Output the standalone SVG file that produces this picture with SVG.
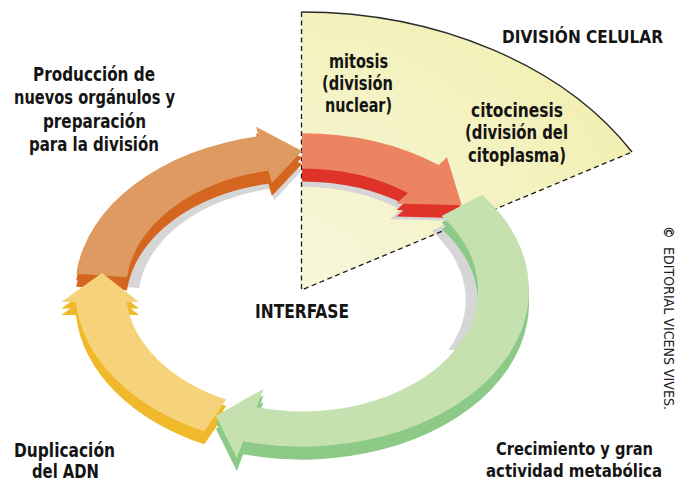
<svg xmlns="http://www.w3.org/2000/svg" width="678" height="481" viewBox="0 0 678 481">
<style>
.lbl{font-family:'Liberation Sans Narrow','DejaVu Sans Condensed','Liberation Sans',Arial,sans-serif;font-weight:bold;font-size:19px;fill:#141414;}
.ttl{font-size:20px;}
.sm{font-size:18px;}
.copy{font-family:'Liberation Sans Narrow','DejaVu Sans Condensed','Liberation Sans',Arial,sans-serif;font-size:14px;fill:#222;}
.o-side{fill:#d4661f;} .o-face{fill:#df9a62;}
.r-side{fill:#df3329;} .r-face{fill:#ec8462;}
.g-side{fill:#8dc987;} .g-face{fill:#c6e1b0;}
.y-side{fill:#f0b92b;} .y-face{fill:#f6d37a;}
.dash{fill:none;stroke:#1a1a1a;stroke-width:1.3;stroke-dasharray:5 3.5;}
.arc{fill:none;stroke:#2a2a2a;stroke-width:1.4;}
</style>
<defs>
<radialGradient id="sectorFill" gradientUnits="userSpaceOnUse" cx="301.5" cy="290" r="380">
<stop offset="0" stop-color="#f7f7dc"/>
<stop offset="1" stop-color="#f2efb0"/>
</radialGradient>
<clipPath id="shadowClip"><rect x="0" y="0" width="678" height="350"/></clipPath>
<path id="a-orange" d="M76.24,273.63 A227,156.63 0 0 1 258.69,136.25 L256.01,126.77 L302,150.96 L271.85,182.98 L268.42,170.79 A176,121.44 0 0 0 126.96,277.31 Z"/>
<path id="a-red" d="M302,133.37 A227,156.63 0 0 1 438.61,164.91 L447.04,157.2 L461.65,205.17 L396.49,203.48 L407.92,193.01 A176,121.44 0 0 0 302,168.56 Z"/>
<path id="a-green" d="M482.09,194.65 A227,156.63 0 0 1 243.25,441.29 L236.78,457.96 L215.89,415.7 L263.69,388.64 L256.45,407.3 A176,121.44 0 0 0 441.63,216.07 Z"/>
<path id="a-yellow" d="M204.27,431.37 A227,156.63 0 0 1 75.86,302 L61.32,302 L102,273.06 L139.12,302 L126.67,302 A176,121.44 0 0 0 226.23,399.61 Z"/>
</defs>

<g id="division-celular-sector">
<path d="M301.5,290 L301.5,12 A381,278 0 0 1 632,152 Z" fill="url(#sectorFill)"/>
</g>

<g id="shadows" clip-path="url(#shadowClip)" fill="#d6d6d6">
<g transform="matrix(0.93,0,0,0.93,21.14,30)">
<use href="#a-orange"/><use href="#a-red"/><use href="#a-green"/>
</g>
</g>

<g id="sector-outline">
<path class="arc" d="M301.5,12 A381,278 0 0 1 632,152"/>
<path class="dash" d="M301.5,12 L301.5,290 L632,152"/>
</g>

<g id="connectors">
<g id="arrow-orange">
<use href="#a-orange" class="o-side" transform="translate(0,13)"/>
<use href="#a-orange" class="o-side" transform="translate(0,6.5)"/>
<use href="#a-orange" class="o-face"/>
</g>
<g id="arrow-red">
<use href="#a-red" class="r-side" transform="translate(0,13)"/>
<use href="#a-red" class="r-side" transform="translate(0,6.5)"/>
<use href="#a-red" class="r-face"/>
</g>
<g id="arrow-yellow">
<use href="#a-yellow" class="y-side" transform="translate(0,13)"/>
<use href="#a-yellow" class="y-side" transform="translate(0,6.5)"/>
<use href="#a-yellow" class="y-face"/>
</g>
<g id="arrow-green">
<use href="#a-green" class="g-side" transform="translate(0,13)"/>
<use href="#a-green" class="g-side" transform="translate(0,6.5)"/>
<use href="#a-green" class="g-face"/>
</g>
</g>

<g id="label-division-celular">
<text class="lbl sm" x="502" y="43" textLength="161" lengthAdjust="spacingAndGlyphs">DIVISIÓN CELULAR</text>
</g>
<g id="label-mitosis">
<text class="lbl" x="329" y="68" textLength="59" lengthAdjust="spacingAndGlyphs">mitosis</text>
<text class="lbl" x="322" y="90" textLength="71" lengthAdjust="spacingAndGlyphs">(división</text>
<text class="lbl" x="325" y="112" textLength="67" lengthAdjust="spacingAndGlyphs">nuclear)</text>
</g>
<g id="label-citocinesis">
<text class="lbl" x="471" y="117" textLength="92" lengthAdjust="spacingAndGlyphs">citocinesis</text>
<text class="lbl" x="465" y="139" textLength="103" lengthAdjust="spacingAndGlyphs">(división del</text>
<text class="lbl" x="468" y="162" textLength="98" lengthAdjust="spacingAndGlyphs">citoplasma)</text>
</g>
<g id="label-produccion">
<text class="lbl" x="33" y="81" textLength="122" lengthAdjust="spacingAndGlyphs">Producción de</text>
<text class="lbl" x="14" y="104" textLength="161" lengthAdjust="spacingAndGlyphs">nuevos orgánulos y</text>
<text class="lbl" x="43" y="128" textLength="103" lengthAdjust="spacingAndGlyphs">preparación</text>
<text class="lbl" x="29" y="151" textLength="130" lengthAdjust="spacingAndGlyphs">para la división</text>
</g>
<g id="label-interfase">
<text class="lbl ttl" x="255" y="318" textLength="94" lengthAdjust="spacingAndGlyphs">INTERFASE</text>
</g>
<g id="label-duplicacion">
<text class="lbl" x="14" y="457" textLength="101" lengthAdjust="spacingAndGlyphs">Duplicación</text>
<text class="lbl" x="32" y="478" textLength="67" lengthAdjust="spacingAndGlyphs">del ADN</text>
</g>
<g id="label-crecimiento">
<text class="lbl sm" x="496" y="455" textLength="157" lengthAdjust="spacingAndGlyphs">Crecimiento y gran</text>
<text class="lbl sm" x="486" y="477" textLength="176" lengthAdjust="spacingAndGlyphs">actividad metabólica</text>
</g>
<g id="copyright" transform="translate(664,226) rotate(90)">
<text class="copy" x="0" y="0" font-size="16" font-weight="bold">©</text>
<text class="copy" x="21" y="0" textLength="163" lengthAdjust="spacingAndGlyphs">EDITORIAL VICENS VIVES.</text>
</g>
</svg>
